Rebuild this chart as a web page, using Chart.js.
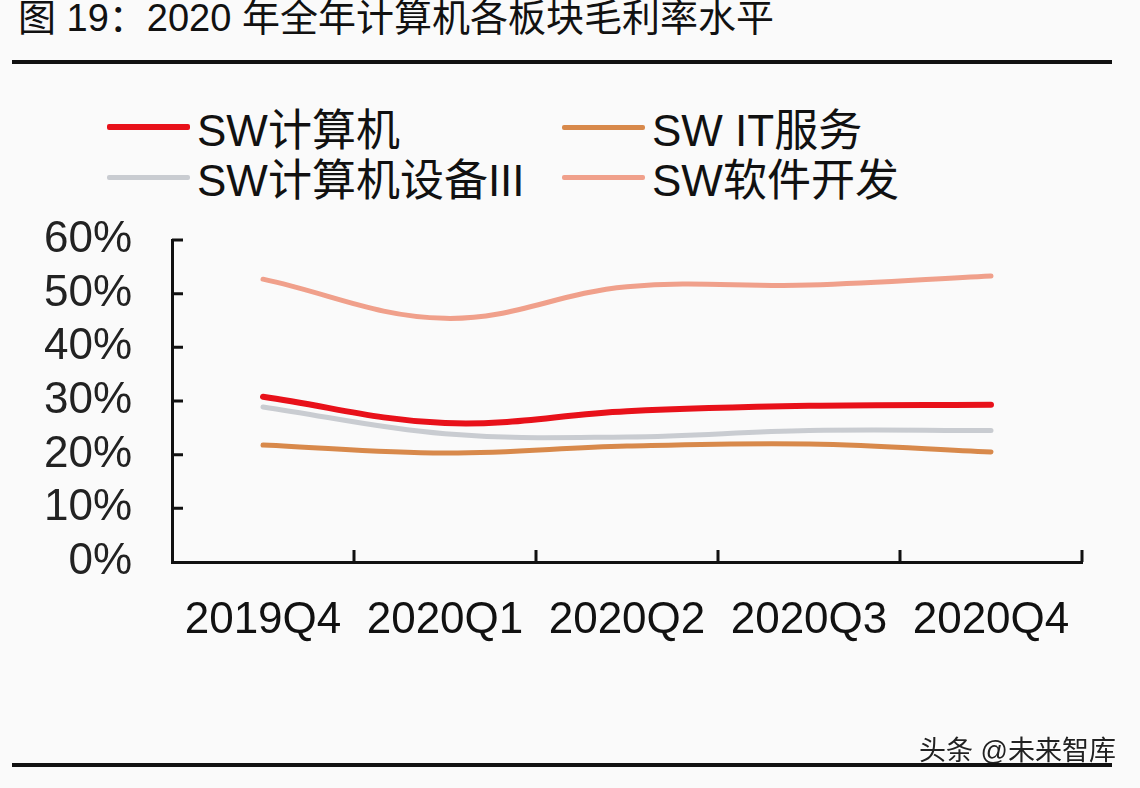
<!DOCTYPE html>
<html>
<head>
<meta charset="utf-8">
<script src="https://cdn.jsdelivr.net/npm/chart.js@4.4.1/dist/chart.umd.min.js"></script>
<style>
  body { margin: 0; background: #fafafa; }
  #wrap { position: relative; width: 1140px; height: 788px; overflow: hidden;
          font-family: "Liberation Sans", "Noto Sans CJK SC", sans-serif; color: #111; }
  #title { position: absolute; left: 18px; top: -2px; font-size: 38px; line-height: 40px; white-space: nowrap; }
  .rule { position: absolute; left: 12px; width: 1100px; height: 4px; background: #111; }
  #legend { position: absolute; left: 107px; top: 102px; display: grid;
            grid-template-columns: 455px auto; grid-auto-rows: 50px; }
  .item { display: flex; align-items: center; font-size: 44px; white-space: nowrap; }
  .swatch { width: 83px; margin-right: 7px; border-radius: 2px; }
  #chart { position: absolute; left: 0; top: 0; }
  #mark { position: absolute; right: 24px; top: 729px; font-size: 27px; color: #222;
          text-shadow: 0 0 2px #fff, 0 0 2px #fff; }
</style>
</head>
<body>
<div id="wrap">
  <div id="title">图 19：2020 年全年计算机各板块毛利率水平</div>
  <div class="rule" style="top:60px"></div>
  <div id="legend"></div>
  <canvas id="chart" width="1140" height="788"></canvas>
  <div id="mark">头条 @未来智库</div>
  <div class="rule" style="top:763px"></div>
</div>
<script>
'use strict';

let quarters = ['2019Q4', '2020Q1', '2020Q2', '2020Q3', '2020Q4'];
let seriesNames = ['SW计算机', 'SW IT服务', 'SW计算机设备III', 'SW软件开发'];
let computerAll = [30.8, 25.9, 28.1, 29.1, 29.3];
let itService = [21.8, 20.3, 21.6, 22.0, 20.5];
let equipment = [28.9, 23.9, 23.3, 24.5, 24.5];
let software = [52.7, 45.4, 51.3, 51.6, 53.3];
let yTicks = [0, 10, 20, 30, 40, 50, 60];

let colors = ['#e8111a', '#d8894b', '#c9ccd1', '#f0a08b'];
let widths = [6, 5, 5, 5];
let values = [computerAll, itService, equipment, software];

let datasets = [];
for (let i = 0; i < seriesNames.length; i++) {
    datasets.push({
        label: seriesNames[i],
        data: values[i],
        borderColor: colors[i],
        backgroundColor: colors[i],
        borderWidth: widths[i],
        pointRadius: 0,
        tension: 0.38,
        borderCapStyle: 'round'
    });
}

// legend in two columns, like the source
let legendEl = document.getElementById('legend');
datasets.forEach(function (ds) {
    let item = document.createElement('div');
    item.className = 'item';
    let sw = document.createElement('span');
    sw.className = 'swatch';
    sw.style.background = ds.borderColor;
    sw.style.height = ds.borderWidth + 'px';
    item.appendChild(sw);
    item.appendChild(document.createTextNode(ds.label));
    legendEl.appendChild(item);
});

// small tick marks pointing into the plot
const innerTicks = {
    id: 'innerTicks',
    afterDraw(chart) {
        let ctx = chart.ctx;
        let area = chart.chartArea;
        let x = chart.scales.x;
        let y = chart.scales.y;
        ctx.save();
        ctx.strokeStyle = '#111';
        ctx.lineWidth = 3;
        ctx.beginPath();
        yTicks.forEach(function (v) {
            if (v === 0) return;
            let py = y.getPixelForValue(v);
            ctx.moveTo(area.left, py);
            ctx.lineTo(area.left + 11, py);
        });
        for (let i = 1; i <= quarters.length; i++) {
            let px = x.getPixelForValue(i - 0.5);
            ctx.moveTo(px, area.bottom);
            ctx.lineTo(px, area.bottom - 12);
        }
        ctx.stroke();
        ctx.restore();
    }
};

let ctx = document.getElementById('chart').getContext('2d');
let theChart = new Chart(ctx, {
    type: 'line',
    data: { labels: quarters, datasets: datasets },
    options: {
        responsive: false,
        animation: false,
        layout: { padding: { left: 0, top: 240, right: 58, bottom: 0 } },
        plugins: { legend: { display: false }, tooltip: { enabled: false } },
        scales: {
            x: {
                offset: true,
                grid: { display: false, drawTicks: false },
                border: { display: true, color: '#111', width: 3 },
                ticks: {
                    padding: 32,
                    color: '#111',
                    font: { family: '"Liberation Sans", Arial, sans-serif', size: 44 },
                    maxRotation: 0,
                    autoSkip: false
                },
                afterFit(scale) { scale.height = 226; }
            },
            y: {
                min: 0,
                max: 60,
                afterBuildTicks(scale) { scale.ticks = yTicks.map(v => ({ value: v })); },
                grid: { display: false, drawTicks: false },
                border: { display: true, color: '#111', width: 3 },
                ticks: {
                    padding: 40,
                    autoSkip: false,
                    color: '#222',
                    font: { family: '"Liberation Sans", Arial, sans-serif', size: 44 },
                    callback: v => v + '%'
                },
                afterFit(scale) { scale.width = 172; }
            }
        }
    },
    plugins: [innerTicks]
});
</script>
</body>
</html>
